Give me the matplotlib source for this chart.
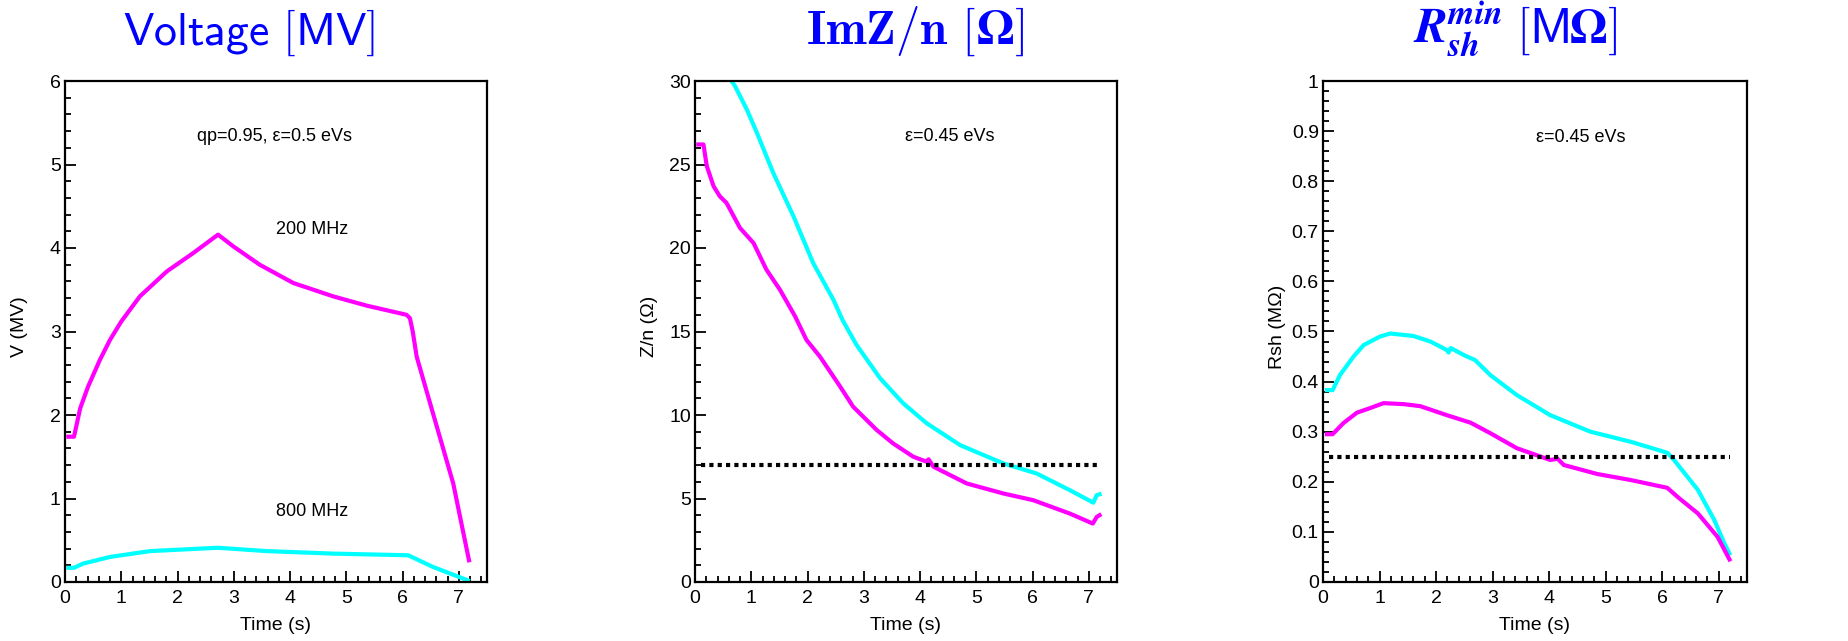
import matplotlib
matplotlib.use("Agg")
import matplotlib.pyplot as plt
from matplotlib.ticker import MultipleLocator, FormatStrFormatter
from matplotlib.offsetbox import TextArea, HPacker, AnnotationBbox

plt.rcParams["font.family"] = ["Liberation Sans", "DejaVu Sans"]
plt.rcParams["mathtext.fontset"] = "cm"

MAGENTA = "#ff00ff"
CYAN = "#00ffff"

# ---- panel 1: voltage [MV] ----
v200_t = [0.06, 0.16, 0.27, 0.41, 0.62, 0.80, 1.00, 1.33, 1.81, 2.28, 2.72,
          2.99, 3.46, 4.06, 4.77, 5.36, 6.07, 6.13, 6.18, 6.25, 6.54, 6.90,
          7.07, 7.18]
v200 = [1.74, 1.74, 2.08, 2.34, 2.66, 2.90, 3.12, 3.42, 3.72, 3.94, 4.16,
        4.02, 3.80, 3.58, 3.42, 3.31, 3.20, 3.16, 3.00, 2.70, 2.02, 1.18,
        0.62, 0.26]
v800_t = [0.06, 0.16, 0.32, 0.80, 1.51, 2.72, 3.58, 4.77, 6.10, 6.54, 7.16]
v800 = [0.17, 0.17, 0.22, 0.30, 0.37, 0.41, 0.37, 0.34, 0.32, 0.18, 0.02]

# ---- panel 2: ImZ/n [Ohm] ----
z200_t = [0.06, 0.15, 0.21, 0.33, 0.44, 0.56, 0.80, 1.04, 1.27, 1.51, 1.78,
          1.98, 2.22, 2.58, 2.81, 3.23, 3.52, 3.88, 4.12, 4.15, 4.24, 4.83,
          5.48, 6.01, 6.66, 7.07, 7.14, 7.19]
z200 = [26.2, 26.2, 24.9, 23.7, 23.1, 22.7, 21.2, 20.3, 18.7, 17.5, 15.9,
        14.5, 13.5, 11.7, 10.5, 9.1, 8.3, 7.5, 7.2, 7.35, 6.9, 5.9,
        5.3, 4.9, 4.1, 3.5, 3.9, 4.0]
z800_t = [0.65, 0.71, 0.92, 1.10, 1.39, 1.75, 2.10, 2.46, 2.62, 2.87, 3.29,
          3.70, 4.12, 4.71, 5.48, 6.07, 6.66, 7.08, 7.14, 7.19]
z800 = [30.0, 29.7, 28.3, 26.9, 24.5, 21.9, 19.1, 16.9, 15.7, 14.2, 12.2,
        10.7, 9.5, 8.2, 7.1, 6.5, 5.5, 4.75, 5.2, 5.25]
z_limit = 7.0

# ---- panel 3: Rsh min [MOhm] ----
r800_t = [0.07, 0.17, 0.30, 0.54, 0.72, 1.01, 1.19, 1.60, 1.90, 2.19, 2.22,
          2.26, 2.49, 2.69, 2.96, 3.43, 4.02, 4.73, 5.44, 6.09, 6.21, 6.63,
          6.92, 7.10, 7.19]
r800 = [0.383, 0.383, 0.413, 0.450, 0.473, 0.490, 0.496, 0.491, 0.480, 0.463,
        0.458, 0.467, 0.453, 0.443, 0.413, 0.373, 0.333, 0.300, 0.280, 0.258,
        0.2435, 0.184, 0.124, 0.077, 0.057]
r200_t = [0.07, 0.17, 0.36, 0.60, 0.83, 1.07, 1.43, 1.72, 2.19, 2.61, 2.96,
          3.43, 4.02, 4.15, 4.26, 4.85, 5.44, 6.09, 6.27, 6.63, 6.98, 7.19]
r200 = [0.295, 0.295, 0.317, 0.338, 0.347, 0.357, 0.355, 0.351, 0.333, 0.318,
        0.297, 0.267, 0.2435, 0.246, 0.2335, 0.2156, 0.2036, 0.188, 0.170,
        0.137, 0.090, 0.045]
r_limit = 0.25
limit_t = [0.1, 7.2]

fig = plt.figure(figsize=(18.49, 6.41), dpi=100)
W, H = 1849, 641
lefts = [65, 695, 1323]
widths = [422, 422, 424]
axes = [fig.add_axes([l / W, 1 - 582 / H, w / W, 501 / H])
        for l, w in zip(lefts, widths)]

FS = 14


def style(ax, ymax, ymaj, ymin, ylabel):
    ax.set_xlim(0, 7.5)
    ax.set_ylim(0, ymax)
    ax.xaxis.set_major_locator(MultipleLocator(1))
    ax.xaxis.set_minor_locator(MultipleLocator(0.2))
    ax.yaxis.set_major_locator(MultipleLocator(ymaj))
    ax.yaxis.set_minor_locator(MultipleLocator(ymin))
    ax.yaxis.set_major_formatter(FormatStrFormatter("%g"))
    ax.tick_params(which="both", direction="in", top=False, right=False,
                   width=1.3, labelsize=FS)
    ax.tick_params(which="major", length=8)
    ax.tick_params(which="minor", length=4)
    ax.tick_params(axis="x", pad=6)
    ax.tick_params(axis="y", pad=3)
    for s in ax.spines.values():
        s.set_linewidth(1.6)
    ax.set_xlabel("Time (s)", fontsize=FS)
    ax.set_ylabel(ylabel, fontsize=FS)
    ax.xaxis.set_label_coords(0.5, -0.07)
    ax.yaxis.set_label_coords(-0.088, 0.51)


ax1, ax2, ax3 = axes
ax1.plot(v200_t, v200, color=MAGENTA, lw=3)
ax1.plot(v800_t, v800, color=CYAN, lw=3)
style(ax1, 6, 1, 0.2, "V (MV)")
ax1.text(3.73, 5.33, "qp=0.95, ε=0.5 eVs", ha="center", va="center", fontsize=13)
ax1.text(4.39, 4.22, "200 MHz", ha="center", va="center", fontsize=13)
ax1.text(4.39, 0.84, "800 MHz", ha="center", va="center", fontsize=13)

ax2.plot(z200_t, z200, color=MAGENTA, lw=3)
ax2.plot(z800_t, z800, color=CYAN, lw=3)
ax2.plot(limit_t, [z_limit, z_limit], color="black", lw=3,
         dashes=(1, 1), dash_capstyle="butt")
style(ax2, 30, 5, 1, "Z/n (Ω)")
ax2.text(4.53, 26.65, "ε=0.45 eVs", ha="center", va="center", fontsize=13)

ax3.plot(r800_t, r800, color=CYAN, lw=3)
ax3.plot(r200_t, r200, color=MAGENTA, lw=3)
ax3.plot(limit_t, [r_limit, r_limit], color="black", lw=3,
         dashes=(1, 1), dash_capstyle="butt")
style(ax3, 1, 0.1, 0.02, "Rsh (MΩ)")
ax3.text(4.56, 0.888, "ε=0.45 eVs", ha="center", va="center", fontsize=13)


# titles: pieces in different math fonts packed on a common baseline
def title(xc, pieces, size):
    boxes = [TextArea(t, textprops=dict(color="blue", fontsize=size,
                                        math_fontfamily=f))
             for t, f in pieces]
    pack = HPacker(children=boxes, align="baseline", pad=0, sep=0)
    ab = AnnotationBbox(pack, (xc / W, 1 - 58 / H), xycoords="figure fraction",
                        box_alignment=(0.5, 0.0), frameon=False, pad=0)
    fig.add_artist(ab)


title(249, [(r"$\mathsf{Voltage\ [MV]}$", "cm")], 33)
title(915, [(r"$\mathbf{ImZ/n}\ [$", "cm"), (r"$\mathbf{\Omega}$", "stix"),
            (r"$]$", "cm")], 35)
title(1515, [(r"$\mathbfit{R}_{\mathbfit{sh}}^{\mathbfit{min}}$", "stix"),
             (r"$\ [\mathsf{M}$", "cm"), (r"$\mathbf{\Omega}$", "stix"),
             (r"$]$", "cm")], 35)

fig.savefig("out.png", dpi=100)
